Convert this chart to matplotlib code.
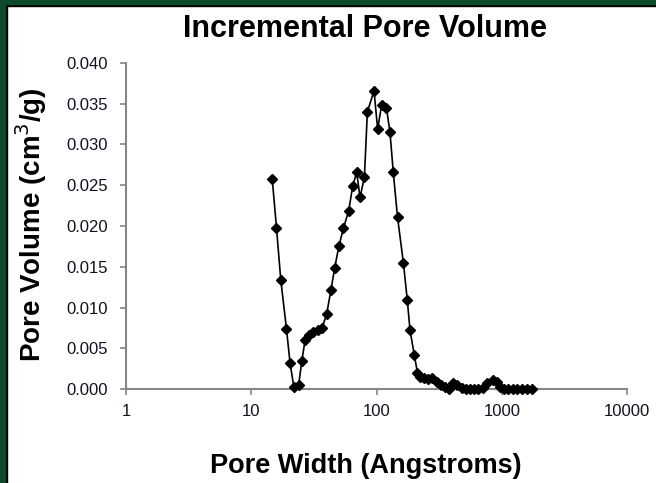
import matplotlib.pyplot as plt
from matplotlib.patches import Rectangle

plt.rcParams['font.family'] = ['Liberation Sans', 'DejaVu Sans']

# pore width (Angstroms) and incremental pore volume (cm3/g)
width = [14.7, 15.9, 17.2, 19.1, 20.4, 21.9, 23.9, 25.3, 26.9, 29.0,
         31.2, 34.2, 36.8, 40.0, 43.2, 46.4, 50.0, 54.4, 60.0, 64.5,
         69.5, 73.8, 80.0, 84.5, 95.5, 102, 110, 120, 128, 136,
         147, 164, 176, 185, 200, 212, 222, 239, 259, 279,
         303, 326, 352, 381, 410, 441, 479, 518, 557, 600,
         650, 705, 767, 857, 912, 969, 1042, 1128, 1220, 1320,
         1460, 1590, 1750]
volume = [0.0258, 0.0198, 0.0134, 0.0074, 0.0032, 0.0002, 0.0005, 0.0034, 0.0060, 0.0066,
          0.0070, 0.0073, 0.0075, 0.0092, 0.0121, 0.0149, 0.0175, 0.0197, 0.0219, 0.0249,
          0.0266, 0.0235, 0.0260, 0.0340, 0.0366, 0.0319, 0.0349, 0.0345, 0.0315, 0.0266,
          0.0211, 0.0154, 0.0109, 0.0072, 0.0042, 0.0020, 0.0015, 0.0013, 0.0012, 0.0014,
          0.0009, 0.0005, 0.0002, 0.0000, 0.0007, 0.0005, 0.0001, 0.0000, 0.0000, 0.0000,
          0.0000, 0.0001, 0.0007, 0.0011, 0.0008, 0.0003, 0.0000, 0.0000, 0.0000, 0.0000,
          0.0000, 0.0000, 0.0000]

xticks = [1, 10, 100, 1000, 10000]
xtick_labels = ['1', '10', '100', '1000', '10000']
yticks = [0.000, 0.005, 0.010, 0.015, 0.020, 0.025, 0.030, 0.035, 0.040]

fig = plt.figure(figsize=(6.56, 4.83), dpi=100)
ax = fig.add_axes([0.192, 0.1946, 0.764, 0.675])

ax.plot(width, volume, color='black', lw=1.2, marker='D', markersize=5.5,
        markerfacecolor='black', markeredgecolor='black', clip_on=False, zorder=3)

ax.set_xscale('log')
ax.set_xlim(1, 10000)
ax.set_ylim(0, 0.040)
ax.set_xticks(xticks)
ax.set_xticklabels(xtick_labels)
ax.minorticks_off()
ax.set_yticks(yticks)
ax.set_yticklabels(['%.3f' % v for v in yticks])

for s in ['top', 'right']:
    ax.spines[s].set_visible(False)
for s in ['left', 'bottom']:
    ax.spines[s].set_color('#868686')
    ax.spines[s].set_linewidth(1.5)
ax.tick_params(axis='both', direction='out', length=4, width=1.2, color='#868686',
               labelsize=12, labelcolor='#111122')
ax.tick_params(axis='y', pad=9)
ax.tick_params(axis='x', pad=7)

fig.text(0.556, 0.940, 'Incremental Pore Volume', ha='center', va='center',
         fontsize=22, fontweight='bold')
fig.text(0.558, 0.035, 'Pore Width (Angstroms)', ha='center', va='center',
         fontsize=19.5, fontweight='bold')
fig.text(0.047, 0.535, 'Pore Volume (cm$^3$/g)', ha='center', va='center',
         rotation=90, fontsize=20, fontweight='bold')

# dark green frame on the left and top edges
green = '#0c4a2c'
fig.add_artist(Rectangle((0, 0), 7 / 656, 1, transform=fig.transFigure, color='black', zorder=10))
fig.add_artist(Rectangle((0, 0), 5 / 656, 1, transform=fig.transFigure, color=green, zorder=11))
fig.add_artist(Rectangle((0, 1 - 6 / 483), 1, 6 / 483, transform=fig.transFigure, color='black', zorder=10))
fig.add_artist(Rectangle((0, 1 - 4 / 483), 1, 4 / 483, transform=fig.transFigure, color=green, zorder=11))

fig.savefig('out.png', dpi=100)
